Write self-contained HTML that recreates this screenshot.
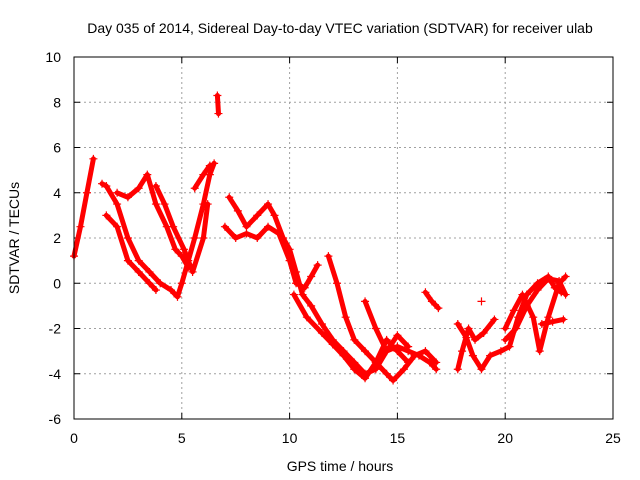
<!DOCTYPE html>
<html><head><meta charset="utf-8"><style>
body{margin:0;background:#fff}
svg{display:block;font-family:"Liberation Sans",sans-serif}
</style></head><body>
<svg id="chart" width="640" height="480">
<rect width="640" height="480" fill="#fff"/>
<text x="340" y="33" text-anchor="middle" font-size="14">Day 035 of 2014, Sidereal Day-to-day VTEC variation (SDTVAR) for receiver ulab</text>
<text x="340" y="471" text-anchor="middle" font-size="14">GPS time / hours</text>
<text transform="translate(19,238) rotate(-90)" text-anchor="middle" font-size="14">SDTVAR / TECUs</text>
<g id="grid"></g><g id="marks"></g>
<rect x="74" y="57" width="539" height="362" fill="none" stroke="#000"/>
</svg>
<script>
const xTicks=[0,5,10,15,20,25];
const yTicks=[-6,-4,-2,0,2,4,6,8,10];
const trackA=[[0,1.2],[0.3,2.5],[0.6,4],[0.9,5.5]];
const trackB=[[1.3,4.4],[1.5,4.3],[2,3.5],[2.5,2],[3,1],[3.5,0.5],[4,0],[4.5,-0.3],[4.8,-0.6],[5,0],[5.3,1],[5.6,2],[6,3.5],[6.3,4.8],[6.5,5.3]];
const trackC=[[1.5,3],[2,2.5],[2.5,1],[3,0.5],[3.5,0],[3.8,-0.3]];
const trackD=[[2,4],[2.5,3.8],[3,4.2],[3.4,4.8],[3.8,3.5],[4.3,2.5],[4.7,1.5],[5,1.2],[5.3,0.7]];
const trackE=[[3.8,4.3],[4.2,3.5],[4.6,2.5],[5.1,1.5],[5.5,0.5],[6,2],[6.2,3.5]];
const trackF=[[5.6,4.2],[6,4.8],[6.3,5.2]];
const trackOut1=[[6.65,8.3],[6.7,7.5]];
const trackG=[[7.2,3.8],[7.6,3.2],[8,2.5],[8.5,3],[9,3.5],[9.3,3],[9.7,2],[10,1.5],[10.3,0.5],[10.6,-0.5],[11,-1],[11.5,-1.8],[12,-2.5],[12.5,-3],[13,-3.5],[13.5,-4],[14,-3.8],[14.5,-3],[15,-2.8],[15.5,-3],[16,-3.2],[16.5,-3.5],[16.8,-3.8]];
const trackH=[[7,2.5],[7.5,2],[8,2.2],[8.5,2],[9,2.5],[9.5,2.2],[10,1],[10.3,0],[10.7,-0.2],[11,0.3],[11.3,0.8]];
const trackI=[[10.2,-0.5],[10.8,-1.5],[11.5,-2.2],[12,-2.7],[12.5,-3.2],[13,-3.8],[13.5,-4.2],[14,-3.5],[14.5,-2.5],[15,-3],[15.5,-3.5]];
const trackJ=[[11.8,1.2],[12.2,0],[12.6,-1.5],[13,-2.5],[13.5,-3],[14,-3.5],[14.5,-4],[14.8,-4.3],[15.3,-3.8],[15.8,-3.2],[16.3,-3],[16.8,-3.5]];
const trackK=[[13.5,-0.8],[14,-2],[14.5,-3],[15,-2.3],[15.5,-2.8]];
const trackL=[[16.3,-0.4],[16.6,-0.8],[16.9,-1.1]];
const trackM=[[17.8,-3.8],[18,-3],[18.3,-2],[18.6,-2.5],[19,-2.2],[19.5,-1.6]];
const trackN=[[17.8,-1.8],[18.2,-2.4],[18.5,-3.2],[18.9,-3.8],[19.3,-3.2],[19.8,-3],[20.2,-2.8],[20.6,-1.5],[21,-0.5],[21.5,0],[22,0.3],[22.3,-0.2],[22.6,-0.4]];
const trackO=[[20,-2],[20.4,-1.2],[20.8,-0.5],[21.3,-1.5],[21.6,-3],[22,-1.5],[22.5,0],[22.8,0.3]];
const trackP=[[21.7,-1.8],[22.2,-1.7],[22.7,-1.6]];
const trackQ=[[20,-2.5],[20.5,-2],[21,-1],[21.5,-0.3],[22,0.2],[22.5,0.1],[22.8,-0.5]];
const trackOut2=[[18.9,-0.8]];
const tracks=[trackA,trackB,trackC,trackD,trackE,trackF,trackOut1,trackG,trackH,trackI,trackJ,trackK,trackL,trackM,trackN,trackO,trackP,trackQ,trackOut2];
const NS="http://www.w3.org/2000/svg";
const X0=74,X1=613,Y0=419,Y1=57;
const xs=t=>X0+(t-0)/(25-0)*(X1-X0);
const ys=v=>Y0-(v+6)/(16)*(Y0-Y1);
function mk(tag,attrs,parent){const e=document.createElementNS(NS,tag);for(const k in attrs)e.setAttribute(k,attrs[k]);parent.appendChild(e);return e;}
const grid=document.getElementById('grid'),marks=document.getElementById('marks');
xTicks.forEach(t=>{const x=xs(t);
 if(t>0&&t<25){const g=mk('line',{x1:x,x2:x,y1:Y1,y2:Y0,stroke:'#a0a0a0','stroke-dasharray':'2,3'},grid);}
 mk('line',{x1:x,x2:x,y1:Y0,y2:Y0-6,stroke:'#000'},grid);mk('line',{x1:x,x2:x,y1:Y1,y2:Y1+6,stroke:'#000'},grid);
 const l=mk('text',{x:x,y:443,'text-anchor':'middle','font-size':'14'},grid);l.textContent=t;
 
 });
yTicks.forEach(v=>{const y=ys(v);
 if(v>-6&&v<10){const g=mk('line',{x1:X0,x2:X1,y1:y,y2:y,stroke:'#a0a0a0','stroke-dasharray':'2,3'},grid);}
 mk('line',{x1:X0,x2:X0+6,y1:y,y2:y,stroke:'#000'},grid);mk('line',{x1:X1,x2:X1-6,y1:y,y2:y,stroke:'#000'},grid);
 const l=mk('text',{x:61,y:y+5,'text-anchor':'end','font-size':'14'},grid);l.textContent=v;
 
 });
tracks.forEach((tr,i)=>{
 const d=tr.map((p,j)=>(j?'L':'M')+xs(p[0]).toFixed(1)+','+ys(p[1]).toFixed(1)).join('');
 const pth=mk('path',{d:d,fill:'none',stroke:'#f00','stroke-width':5,'stroke-linejoin':'round','stroke-linecap':'round'},marks);
 
 
 tr.forEach(p=>{const x=xs(p[0]),y=ys(p[1]);
  const m=mk('path',{d:`M${x-4},${y}H${x+4}M${x},${y-4}V${y+4}`,stroke:'#f00','stroke-width':1.2},marks);
  
  });
});
</script>
</body></html>
